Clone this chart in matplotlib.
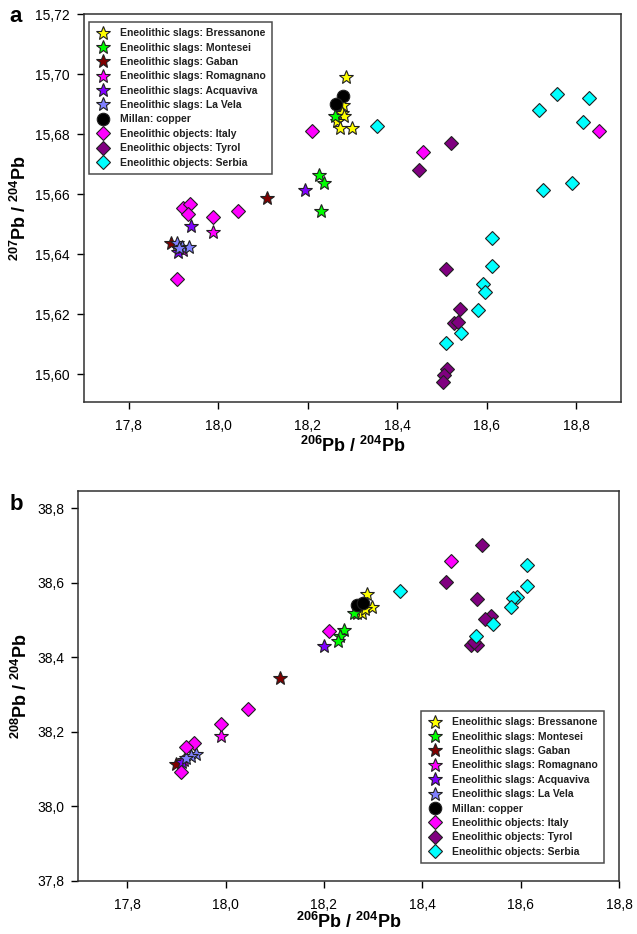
import matplotlib
matplotlib.use("Agg")
import matplotlib.pyplot as plt
from matplotlib.ticker import FuncFormatter, MultipleLocator

plt.rcParams['font.family'] = ['Liberation Sans', 'DejaVu Sans']
plt.rcParams['mathtext.fontset'] = 'custom'
plt.rcParams['mathtext.rm'] = 'Liberation Sans:bold'
plt.rcParams['mathtext.bf'] = 'Liberation Sans:bold'

groups = ["Eneolithic slags: Bressanone", "Eneolithic slags: Montesei",
          "Eneolithic slags: Gaban", "Eneolithic slags: Romagnano",
          "Eneolithic slags: Acquaviva", "Eneolithic slags: La Vela",
          "Millan: copper", "Eneolithic objects: Italy",
          "Eneolithic objects: Tyrol", "Eneolithic objects: Serbia"]

# Panel a: 206Pb/204Pb vs 207Pb/204Pb
a_bressanone_x = [18.285, 18.278, 18.276, 18.281, 18.265, 18.271, 18.298]
a_bressanone_y = [15.699, 15.6897, 15.6871, 15.686, 15.6843, 15.6819, 15.6821]
a_montesei_x = [18.261, 18.225, 18.237, 18.229]
a_montesei_y = [15.686, 15.6663, 15.6638, 15.6544]
a_gaban_x = [18.110, 17.894]
a_gaban_y = [15.6588, 15.6438]
a_romagnano_x = [17.988, 17.921]
a_romagnano_y = [15.6474, 15.6413]
a_acquaviva_x = [18.194, 17.939, 17.911]
a_acquaviva_y = [15.6613, 15.6494, 15.6406]
a_lavela_x = [17.907, 17.918, 17.935, 17.912]
a_lavela_y = [15.6438, 15.6424, 15.6422, 15.6420]
a_millan_x = [18.279, 18.264]
a_millan_y = [15.6928, 15.6900]
a_italy_x = [18.209, 18.045, 17.988, 17.921, 17.937, 17.933, 17.908, 18.457, 18.851]
a_italy_y = [15.681, 15.6543, 15.6524, 15.6552, 15.6567, 15.6533, 15.6316, 15.6741, 15.6811]
a_tyrol_x = [18.520, 18.449, 18.510, 18.540, 18.527, 18.536, 18.512, 18.505, 18.502]
a_tyrol_y = [15.6771, 15.6679, 15.635, 15.6218, 15.6171, 15.6174, 15.6016, 15.5997, 15.5972]
a_serbia_x = [18.355, 18.758, 18.829, 18.717, 18.815, 18.726, 18.790, 18.612, 18.612,
              18.592, 18.595, 18.580, 18.542, 18.509]
a_serbia_y = [15.6828, 15.6932, 15.6919, 15.6879, 15.684, 15.6613, 15.6636, 15.6452, 15.6361,
              15.630, 15.6272, 15.6213, 15.6136, 15.6104]

# Panel b: 206Pb/204Pb vs 208Pb/204Pb
b_bressanone_x = [18.287, 18.298, 18.272, 18.268, 18.278, 18.283]
b_bressanone_y = [38.571, 38.536, 38.525, 38.518, 38.520, 38.530]
b_montesei_x = [18.261, 18.240, 18.232, 18.228]
b_montesei_y = [38.518, 38.472, 38.458, 38.445]
b_gaban_x = [18.110, 17.900]
b_gaban_y = [38.345, 38.115]
b_romagnano_x = [17.990, 17.915]
b_romagnano_y = [38.190, 38.125]
b_acquaviva_x = [18.200, 17.912]
b_acquaviva_y = [38.430, 38.120]
b_lavela_x = [17.940, 17.930, 17.920]
b_lavela_y = [38.140, 38.135, 38.130]
b_millan_x = [18.267, 18.279]
b_millan_y = [38.539, 38.545]
b_italy_x = [18.210, 18.045, 17.990, 17.935, 17.920, 17.910, 18.458]
b_italy_y = [38.470, 38.262, 38.220, 38.170, 38.160, 38.093, 38.657]
b_tyrol_x = [18.521, 18.448, 18.511, 18.540, 18.528, 18.500, 18.512, 18.505]
b_tyrol_y = [38.701, 38.602, 38.557, 38.512, 38.502, 38.434, 38.432, 38.440]
b_serbia_x = [18.355, 18.612, 18.612, 18.592, 18.585, 18.580, 18.543, 18.509]
b_serbia_y = [38.578, 38.648, 38.590, 38.562, 38.558, 38.535, 38.488, 38.457]

colors = ['#FFFF00', '#00FF00', '#800000', '#FF00FF', '#8000FF', '#8080FF',
          '#000000', '#FF00FF', '#800080', '#00FFFF']
markers = ['*', '*', '*', '*', '*', '*', 'o', 'D', 'D', 'D']
msizes = [10.5, 10.5, 10.5, 10.5, 10.5, 10.5, 9, 7.5, 7.5, 7.5]

data_a = [(a_bressanone_x, a_bressanone_y), (a_montesei_x, a_montesei_y),
          (a_gaban_x, a_gaban_y), (a_romagnano_x, a_romagnano_y),
          (a_acquaviva_x, a_acquaviva_y), (a_lavela_x, a_lavela_y),
          (a_millan_x, a_millan_y), (a_italy_x, a_italy_y),
          (a_tyrol_x, a_tyrol_y), (a_serbia_x, a_serbia_y)]
data_b = [(b_bressanone_x, b_bressanone_y), (b_montesei_x, b_montesei_y),
          (b_gaban_x, b_gaban_y), (b_romagnano_x, b_romagnano_y),
          (b_acquaviva_x, b_acquaviva_y), (b_lavela_x, b_lavela_y),
          (b_millan_x, b_millan_y), (b_italy_x, b_italy_y),
          (b_tyrol_x, b_tyrol_y), (b_serbia_x, b_serbia_y)]

fig = plt.figure(figsize=(6.37, 9.34), dpi=100)
ax_a = fig.add_axes([84/637, 1-402/934, (621-84)/637, (402-14)/934])
ax_b = fig.add_axes([78/637, 1-881/934, (619-78)/637, (881-491)/934])


def comma(fmt):
    return FuncFormatter(lambda v, p: (fmt % v).replace('.', ','))


def draw(ax, data, loc, bbox):
    handles = []
    for (xs, ys), lab, c, m, ms in zip(data, groups, colors, markers, msizes):
        h, = ax.plot(xs, ys, linestyle='none', marker=m, markersize=ms,
                     markerfacecolor=c, markeredgecolor='#202020',
                     markeredgewidth=0.8, label=lab)
        handles.append(h)
    ax.tick_params(axis='both', which='both', direction='out', length=5,
                   width=1, labelsize=10, top=False, right=False)
    ax.tick_params(axis='x', pad=7)
    ax.tick_params(axis='y', pad=5)
    for s in ax.spines.values():
        s.set_linewidth(1.1)
        s.set_color('#303030')
    leg = ax.legend(handles=handles, loc=loc, bbox_to_anchor=bbox,
                    frameon=True, fancybox=False, edgecolor='#202020',
                    prop={'weight': 'bold', 'size': 7.5}, labelspacing=0.42,
                    handletextpad=0.9, borderpad=0.6, handlelength=1.5,
                    borderaxespad=0)
    leg.get_frame().set_linewidth(1.1)
    for t in leg.get_texts():
        t.set_color('#202020')


draw(ax_a, data_a, 'upper left', (5/537, 1-8/388))
ax_a.set_xlim(17.7, 18.9)
ax_a.set_ylim(15.5907, 15.72)
ax_a.xaxis.set_major_locator(MultipleLocator(0.2))
ax_a.yaxis.set_major_locator(MultipleLocator(0.02))
ax_a.xaxis.set_major_formatter(comma('%.1f'))
ax_a.yaxis.set_major_formatter(comma('%.2f'))
ax_a.set_xlabel('$^{206}$Pb / $^{204}$Pb', fontsize=13, fontweight='bold', labelpad=2)
ax_a.set_ylabel('$^{207}$Pb / $^{204}$Pb', fontsize=13, fontweight='bold', labelpad=4)

draw(ax_b, data_b, 'lower right', (1-15/541, 18/390))
ax_b.set_xlim(17.7, 18.8)
ax_b.set_ylim(37.8, 38.846)
ax_b.xaxis.set_major_locator(MultipleLocator(0.2))
ax_b.yaxis.set_major_locator(MultipleLocator(0.2))
ax_b.xaxis.set_major_formatter(comma('%.1f'))
ax_b.yaxis.set_major_formatter(comma('%.1f'))
ax_b.set_xlabel('$^{206}$Pb / $^{204}$Pb', fontsize=13, fontweight='bold', labelpad=0)
ax_b.set_ylabel('$^{208}$Pb / $^{204}$Pb', fontsize=13, fontweight='bold', labelpad=4)

fig.text(16/637, 1-17/934, 'a', fontsize=16, fontweight='bold', ha='center', va='center')
fig.text(16/637, 1-505/934, 'b', fontsize=16, fontweight='bold', ha='center', va='center')

fig.savefig('out.png', dpi=100)
